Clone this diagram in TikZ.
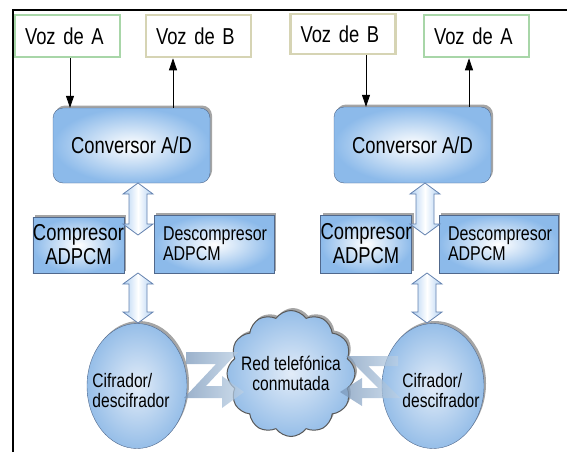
\documentclass[tikz,border=0pt]{standalone}
\usepackage{fontspec}
\setmainfont{Liberation Sans}[FakeStretch=0.8]
\usetikzlibrary{shapes.geometric,shapes.symbols,shadows,calc,arrows.meta}
\definecolor{vozgreen}{RGB}{168,214,168}
\definecolor{voztan}{RGB}{214,212,180}
\definecolor{boxblue}{RGB}{140,186,234}
\definecolor{boxedge}{RGB}{80,104,140}
\definecolor{shadowgray}{RGB}{165,165,165}
\definecolor{circout}{RGB}{150,190,232}
\definecolor{circin}{RGB}{226,236,248}
\definecolor{arrblue}{RGB}{176,208,242}
\definecolor{arredge}{RGB}{100,130,175}
\definecolor{zcolA}{RGB}{120,150,185}
\definecolor{zcolB}{RGB}{190,210,230}
\newcommand\diagbig{\fontsize{23}{24}\selectfont}
\newcommand\diagmid{\fontsize{20}{20}\selectfont}
\newcommand\diagsmall{\fontsize{19.5}{20}\selectfont}
\newcommand\dblarr[2]{%
  \path[dbl] (#1) -- ++(15,11) -- ++(-6,0) -- ($(#2)+(9,-11)$) -- ++(6,0) -- (#2)
    -- ++(-15,-11) -- ++(6,0) -- ($(#1)+(-9,11)$) -- ++(-6,0) -- cycle;}
\begin{document}
\begin{tikzpicture}[x=1pt,y=-1pt,
  vozbox/.style={draw, line width=2.5pt, fill=white, minimum width=105pt, minimum height=42pt,
     inner xsep=10pt, text width=85pt, align=left, font=\diagbig},
  shad/.style={general shadow={fill=shadowgray, shadow xshift=2pt, shadow yshift=2.5pt}},
  conv/.style={draw=boxedge, rounded corners=10pt, inner color=white, outer color=boxblue,
     minimum width=157pt, minimum height=75pt, font=\diagbig, shad},
  compbox/.style={draw=boxedge, inner color=white, outer color=boxblue, shad, font=\diagbig,
     align=center, inner sep=0pt},
  descbox/.style={draw=boxedge, inner color=white, outer color=boxblue, shad, font=\diagmid,
     align=left, inner xsep=9pt, text width=102pt},
  circ/.style={ellipse, draw=boxedge, inner color=circin, outer color=circout,
     minimum width=100pt, minimum height=125pt, shad},
  circtext/.style={font=\diagsmall, align=left},
  cloudtext/.style={font=\diagsmall, align=center},
  redcloud/.style={cloud, cloud puffs=12, cloud puff arc=110, aspect=1, minimum width=128pt,
     minimum height=126pt, draw=gray!70!black, line width=1pt, inner color=circin,
     outer color=circout, shad},
  thin/.style={-{Triangle[length=12pt,width=8pt]}, line width=0.8pt},
  dbl/.style={draw=arredge, line width=0.8pt, left color=arrblue, right color=arrblue, middle color=white},
  zarrow/.style={left color=zcolA, right color=zcolB, draw=none, opacity=0.75}
]
\useasboundingbox (0,0) rectangle (567,452);
% frame
\draw[line width=2.5pt] (13,452) -- (13,10) -- (567,10);

% left column
\node[vozbox, draw=vozgreen] (vA1) at (67.5,36) {Voz de A};
\node[vozbox, draw=voztan] (vB1) at (198.5,36) {Voz de B};
\node[conv] (conv1) at (131.5,145.5) {Conversor A/D};
\node[compbox, minimum width=89pt, minimum height=56pt] (comp1) at (78.5,245) {Compresor\\ADPCM};
\node[descbox, minimum height=58pt] (desc1) at (214,244) {Descompresor\\ADPCM};
\node[circ, label={[circtext, xshift=-6pt, yshift=-5pt]center:Cifrador/\\descifrador}] (cif1) at (137,386) {};

% right column
\node[vozbox, draw=voztan, minimum width=104pt, minimum height=40pt] (vB2) at (343,34) {Voz de B};
\node[vozbox, draw=vozgreen] (vA2) at (476.5,36) {Voz de A};
\node[conv, minimum height=76pt] (conv2) at (412.5,145) {Conversor A/D};
\node[compbox, minimum width=90pt, minimum height=58pt] (comp2) at (366,244) {Compresor\\ADPCM};
\node[descbox, minimum height=58pt, text width=101pt] (desc2) at (498.5,244) {Descompresor\\ADPCM};
\node[circ, minimum width=102pt, label={[circtext, xshift=8pt, yshift=-5pt]center:Cifrador/\\descifrador}] (cif2) at (433,386) {};

% cloud
\node[redcloud, label={[cloudtext]center:Red telefónica\\conmutada}] (red) at (291,373.5) {};

% thin arrows
\coordinate (p1) at ($(conv1.north)+(-61.5,0)$);
\coordinate (p2) at ($(conv1.north)+(41.5,0)$);
\coordinate (p3) at ($(conv2.north)+(-46.5,0)$);
\coordinate (p4) at ($(conv2.north)+(56.5,0)$);
\draw[thin] (vA1.south -| p1) -- (p1);
\draw[thin] (p2) -- (vB1.south -| p2);
\draw[thin] (vB2.south -| p3) -- (p3);
\draw[thin] (p4) -- (vA2.south -| p4);

% block double arrows
\coordinate (a1t) at (138,183); \coordinate (a1b) at (138,235);
\coordinate (a2t) at (138,273); \coordinate (a2b) at (138,323);
\coordinate (a3t) at (425,183); \coordinate (a3b) at (425,235);
\coordinate (a4t) at (427,273); \coordinate (a4b) at (427,323);
\dblarr{a1t}{a1b}
\dblarr{a2t}{a2b}
\dblarr{a3t}{a3b}
\dblarr{a4t}{a4b}

% zigzag links
\path[zarrow] (186,352) -- (238,352) -- (206,386) -- (222,386) -- (222,376) -- (244,392)
  -- (222,408) -- (222,398) -- (184,398) -- (216,364) -- (186,364) -- cycle;
\path[zarrow] (398,356) -- (346,356) -- (378,388) -- (362,388) -- (362,378) -- (340,392)
  -- (362,406) -- (362,398) -- (400,398) -- (368,366) -- (398,366) -- cycle;
\end{tikzpicture}
\end{document}
